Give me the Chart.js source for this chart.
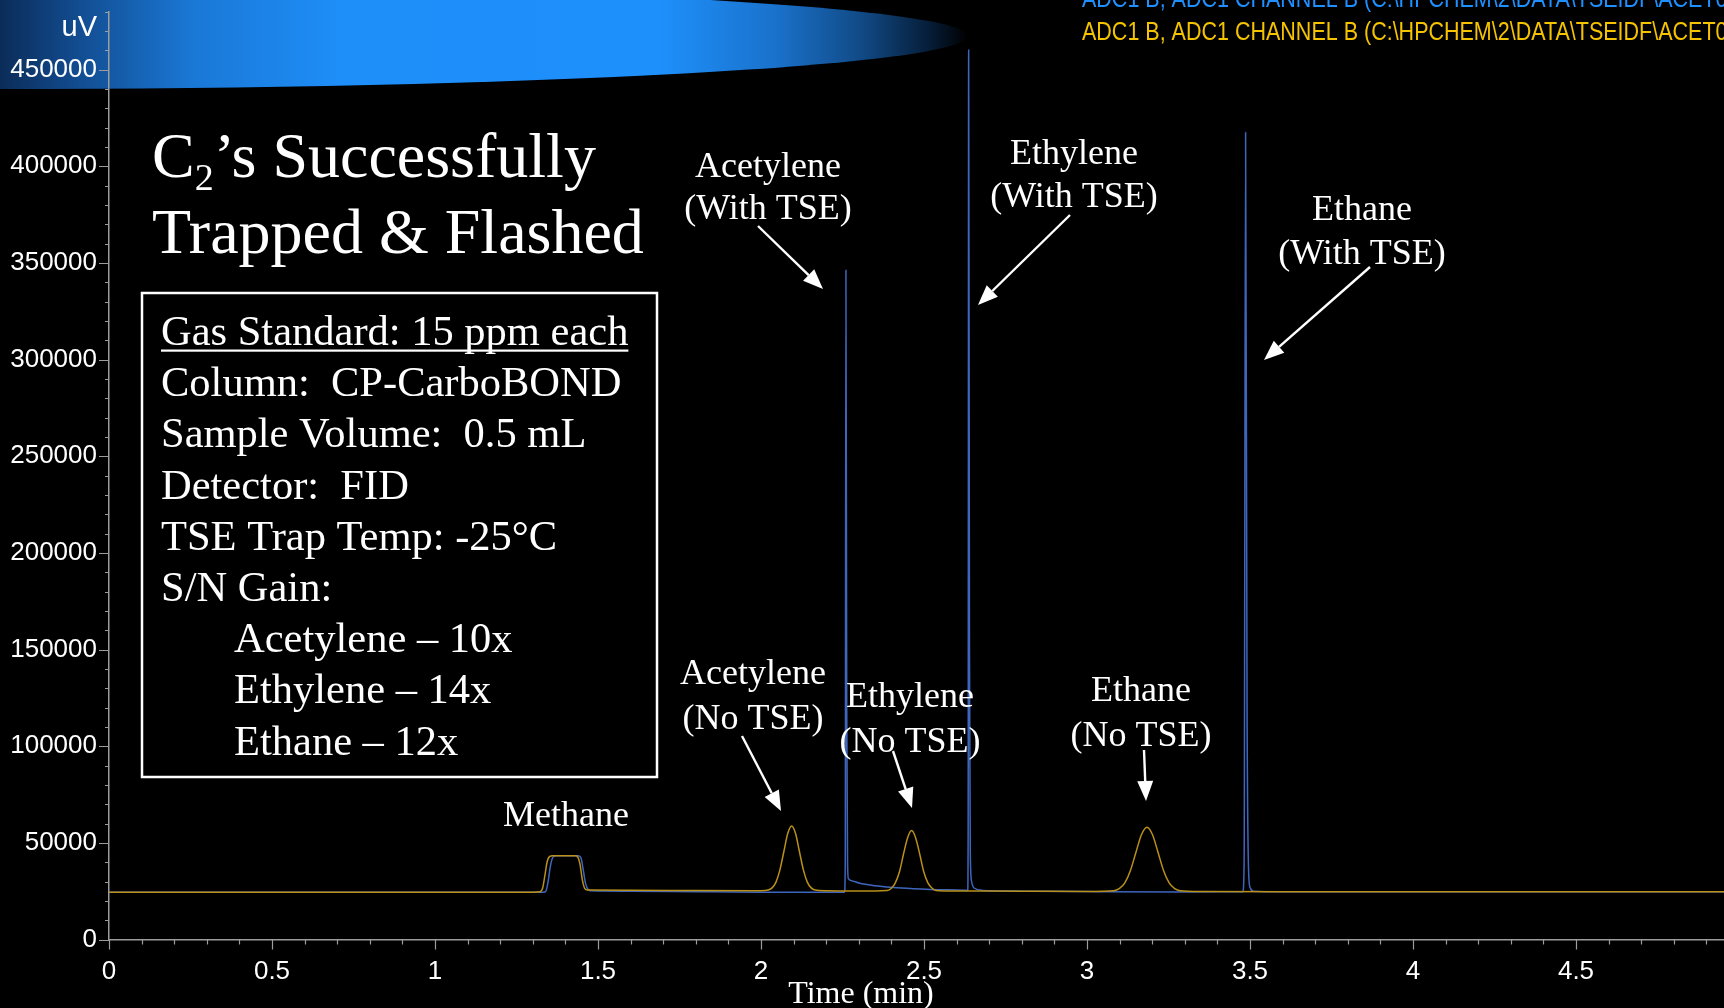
<!DOCTYPE html>
<html>
<head>
<meta charset="utf-8">
<script src="https://cdn.jsdelivr.net/npm/chart.js@4.4.1/dist/chart.umd.min.js"></script>
<style>
  html, body { margin: 0; padding: 0; background: #000; overflow: hidden; }
  #wrap { width: 1724px; height: 1008px; position: relative; }
</style>
</head>
<body>
<div id="wrap"><canvas id="chromatogram" width="1724" height="1008"></canvas></div>
<script>
// FID chromatogram, C2 gases, 15 ppm standard: run without and with the TSE trap

// Run without TSE (gold trace): retention time (min) and detector signal (uV)
const timeNoTse = [
  0, 1.300, 1.322, 1.330, 1.337, 1.344, 1.352, 1.360, 1.430, 1.438, 1.445, 1.452, 1.459, 1.468,
  1.600, 1.800, 2.000,
  2.022, 2.034, 2.046, 2.058, 2.070, 2.082, 2.094, 2.106, 2.118, 2.130, 2.142, 2.154, 2.166, 2.200,
  2.300, 2.387, 2.400, 2.412, 2.425, 2.437, 2.450, 2.462, 2.474, 2.487, 2.499, 2.512, 2.525, 2.537, 2.600,
  2.800, 3.000, 3.082, 3.099, 3.116, 3.133, 3.150, 3.167, 3.184, 3.201, 3.218, 3.235, 3.252, 3.269, 3.286, 3.350,
  3.600, 4.200, 4.960
];
const signalNoTse = [
  24500, 24500, 24700, 26500, 33000, 40200, 43000, 43300, 43300, 42700, 38700, 30800, 26500, 25600,
  25500, 25300, 25200,
  25600, 26700, 29700, 36000, 45400, 54800, 58700, 54800, 45400, 36000, 29700, 26700, 25600, 25200,
  25100, 25400, 26500, 29300, 35200, 44100, 52800, 56400, 52800, 44100, 35200, 29300, 26500, 25400, 25100,
  25000, 24800, 25200, 26300, 29300, 35600, 45000, 54200, 58100, 54200, 45000, 35600, 29300, 26300, 25200, 24800,
  24700, 24700, 24700
];

// Run with TSE (blue trace): retention time (min) and detector signal (uV)
const timeWithTse = [
  0, 1.332, 1.340, 1.347, 1.354, 1.362, 1.372, 1.440, 1.448, 1.455, 1.462, 1.470, 1.480,
  1.600, 1.800, 2.000, 2.256,
  2.2585, 2.2605, 2.2630, 2.2655, 2.268, 2.280, 2.300, 2.350, 2.430, 2.520, 2.620, 2.634,
  2.6355, 2.6370, 2.6395, 2.642, 2.646, 2.655, 2.680, 2.800,
  3.000, 3.300, 3.478, 3.482, 3.4865, 3.491, 3.495, 3.500, 3.510, 3.600, 4.200, 4.960
];
const signalWithTse = [
  24500, 24500, 25000, 30000, 38000, 42600, 43300, 43300, 42100, 35700, 28900, 25800, 25200,
  25000, 24700, 24500, 24500,
  40000, 346200, 120000, 40000, 31500, 30300, 29200, 27800, 26600, 25900, 25500, 25400,
  60000, 460100, 150000, 45000, 30000, 26500, 25400, 25000,
  24800, 24600, 24700, 40000, 417400, 120000, 40000, 27000, 25000, 24700, 24700, 24700
];

// Axis ticks
const timeTicks = [0, 0.5, 1, 1.5, 2, 2.5, 3, 3.5, 4, 4.5];
const signalTicks = [0, 50000, 100000, 150000, 200000, 250000, 300000, 350000, 400000, 450000];

const SANS = '"Liberation Sans", Arial, Helvetica, sans-serif';
const SERIF = '"Liberation Serif", "Times New Roman", Times, serif';
const AXIS_GREY = '#9c9c9c';

function toPoints(xs, ys) { return xs.map((x, i) => ({ x: x, y: ys[i] })); }

// Blue banner behind the top-left corner
const banner = {
  id: 'banner',
  beforeDraw(chart) {
    const ctx = chart.ctx;
    ctx.save();
    ctx.fillStyle = '#000';
    ctx.fillRect(0, 0, chart.width, chart.height);
    const rx = 968, ry = 53, cy = 36;
    const g = ctx.createLinearGradient(0, 0, rx, 0);
    g.addColorStop(0.00, '#0b2c58');
    g.addColorStop(0.08, '#124c90');
    g.addColorStop(0.20, '#1a78d6');
    g.addColorStop(0.35, '#1e8ef8');
    g.addColorStop(0.68, '#1e90fc');
    g.addColorStop(0.80, '#1a72cc');
    g.addColorStop(0.89, '#114a86');
    g.addColorStop(0.96, '#061d38');
    g.addColorStop(1.00, '#000000');
    ctx.beginPath();
    ctx.ellipse(0, cy, rx, ry, 0, 0, Math.PI * 2);
    ctx.fillStyle = g;
    ctx.fill();
    ctx.restore();
  }
};

// Major and minor tick marks on both axes
const tickMarks = {
  id: 'tickMarks',
  afterDraw(chart) {
    const ctx = chart.ctx;
    const xs = chart.scales.x, ys = chart.scales.y;
    const area = chart.chartArea;
    ctx.save();
    ctx.strokeStyle = AXIS_GREY;
    ctx.lineWidth = 1.2;
    ctx.beginPath();
    for (let i = 0; i <= 49; i++) {
      const px = Math.round(xs.getPixelForValue(i / 10)) + 0.5;
      const len = i % 5 === 0 ? 10 : 5;
      ctx.moveTo(px, area.bottom);
      ctx.lineTo(px, area.bottom + len);
    }
    for (let i = 0; i <= 48; i++) {
      const py = Math.round(ys.getPixelForValue(i * 10000)) + 0.5;
      const len = i % 5 === 0 ? 10 : 4;
      ctx.moveTo(area.left - len, py);
      ctx.lineTo(area.left, py);
    }
    ctx.stroke();
    ctx.restore();
  }
};

function arrow(ctx, x1, y1, x2, y2) {
  const ang = Math.atan2(y2 - y1, x2 - x1);
  const head = 20, half = 8;
  const bx = x2 - head * Math.cos(ang), by = y2 - head * Math.sin(ang);
  ctx.beginPath();
  ctx.moveTo(x1, y1);
  ctx.lineTo(bx, by);
  ctx.stroke();
  ctx.beginPath();
  ctx.moveTo(x2, y2);
  ctx.lineTo(bx + half * Math.sin(ang), by - half * Math.cos(ang));
  ctx.lineTo(bx - half * Math.sin(ang), by + half * Math.cos(ang));
  ctx.closePath();
  ctx.fill();
}

function centered(ctx, lines, cx, baselines) {
  ctx.textAlign = 'center';
  lines.forEach((t, i) => ctx.fillText(t, cx, baselines[i]));
}

// Condensed sans text, as the data system prints its file headers
function narrowText(ctx, text, x, y, squeeze) {
  ctx.save();
  ctx.translate(x, y);
  ctx.scale(squeeze, 1);
  ctx.fillText(text, 0, 0);
  ctx.restore();
}

// Slide text: title, run conditions, peak annotations, file headers
const slideText = {
  id: 'slideText',
  afterDraw(chart) {
    const ctx = chart.ctx;
    ctx.save();
    ctx.textBaseline = 'alphabetic';

    // Data file headers (run with TSE in blue, run without TSE in gold)
    ctx.font = '25px ' + SANS;
    ctx.textAlign = 'left';
    ctx.fillStyle = '#1e90ff';
    narrowText(ctx, 'ADC1 B, ADC1 CHANNEL B (C:\\HPCHEM\\2\\DATA\\TSEIDF\\ACET0002.D)', 1082, 7, 0.86);
    ctx.fillStyle = '#f5c300';
    narrowText(ctx, 'ADC1 B, ADC1 CHANNEL B (C:\\HPCHEM\\2\\DATA\\TSEIDF\\ACET0001.D)', 1082, 40, 0.86);

    // Y unit
    ctx.fillStyle = '#ffffff';
    ctx.font = '29px ' + SANS;
    ctx.textAlign = 'right';
    ctx.fillText('uV', 97, 36);

    // Title
    ctx.textAlign = 'left';
    ctx.font = '64px ' + SERIF;
    let x = 152;
    ctx.fillText('C', x, 177);
    x += ctx.measureText('C').width;
    ctx.font = '38px ' + SERIF;
    ctx.fillText('2', x, 190);
    x += ctx.measureText('2').width;
    ctx.font = '64px ' + SERIF;
    ctx.fillText('\u2019s Successfully', x, 177);
    ctx.fillText('Trapped & Flashed', 152, 253);

    // Run conditions box
    ctx.strokeStyle = '#ffffff';
    ctx.lineWidth = 2.5;
    ctx.strokeRect(142, 293, 515, 484);
    ctx.font = '42.5px ' + SERIF;
    const rows = [
      ['Gas Standard: 15 ppm each', 161],
      ['Column:  CP-CarboBOND', 161],
      ['Sample Volume:  0.5 mL', 161],
      ['Detector:  FID', 161],
      ['TSE Trap Temp: -25\u00B0C', 161],
      ['S/N Gain:', 161],
      ['Acetylene \u2013 10x', 234],
      ['Ethylene \u2013 14x', 234],
      ['Ethane \u2013 12x', 234]
    ];
    rows.forEach((r, i) => ctx.fillText(r[0], r[1], 345 + i * 51.2));
    const w0 = ctx.measureText(rows[0][0]).width;
    ctx.fillRect(161, 349.5, w0, 2.2);

    // Peak annotations
    ctx.font = '36px ' + SERIF;
    ctx.strokeStyle = '#ffffff';
    ctx.fillStyle = '#ffffff';
    ctx.lineWidth = 2.4;
    centered(ctx, ['Acetylene', '(With TSE)'], 768, [177, 219]);
    arrow(ctx, 758, 226, 823, 289);
    centered(ctx, ['Ethylene', '(With TSE)'], 1074, [164, 207]);
    arrow(ctx, 1070, 215, 978, 305);
    centered(ctx, ['Ethane', '(With TSE)'], 1362, [220, 264]);
    arrow(ctx, 1370, 267, 1264, 360);
    centered(ctx, ['Acetylene', '(No TSE)'], 753, [684, 729]);
    arrow(ctx, 742, 736, 781, 811);
    centered(ctx, ['Ethylene', '(No TSE)'], 910, [707, 752]);
    arrow(ctx, 893, 751, 912, 808);
    centered(ctx, ['Ethane', '(No TSE)'], 1141, [701, 746]);
    arrow(ctx, 1144, 750, 1146, 801);
    centered(ctx, ['Methane'], 566, [826]);

    // X axis title
    ctx.font = '32px ' + SERIF;
    centered(ctx, ['Time (min)'], 861, [1003]);

    ctx.restore();
  }
};

const chart = new Chart(document.getElementById('chromatogram'), {
  type: 'line',
  data: {
    datasets: [
      {
        label: 'No TSE',
        data: toPoints(timeNoTse, signalNoTse),
        borderColor: '#b8901a',
        borderWidth: 1.5,
        pointRadius: 0,
        cubicInterpolationMode: 'monotone',
        fill: false
      },
      {
        label: 'With TSE',
        data: toPoints(timeWithTse, signalWithTse),
        borderColor: '#3f66bd',
        borderWidth: 1.5,
        pointRadius: 0,
        cubicInterpolationMode: 'monotone',
        fill: false
      }
    ]
  },
  options: {
    responsive: false,
    animation: false,
    devicePixelRatio: 1,
    layout: { padding: { top: 11.5, right: 0, bottom: 0, left: 0 } },
    plugins: { legend: { display: false }, tooltip: { enabled: false } },
    scales: {
      x: {
        type: 'linear',
        min: 0,
        max: 4.954,
        afterFit(scale) {
          scale.height = 68.5;
          scale.paddingLeft = 0;
          scale.paddingRight = 0;
        },
        afterBuildTicks(scale) { scale.ticks = timeTicks.map(v => ({ value: v })); },
        grid: { display: false, drawTicks: false },
        border: { display: true, color: AXIS_GREY, width: 1.5 },
        ticks: {
          color: '#ffffff',
          font: { family: SANS, size: 26 },
          padding: 17,
          maxRotation: 0,
          autoSkip: false,
          callback: v => String(v)
        }
      },
      y: {
        type: 'linear',
        min: 0,
        max: 480000,
        afterFit(scale) {
          scale.width = 109;
          scale.paddingTop = 0;
          scale.paddingBottom = 0;
        },
        afterBuildTicks(scale) { scale.ticks = signalTicks.map(v => ({ value: v })); },
        grid: { display: false, drawTicks: false },
        border: { display: true, color: AXIS_GREY, width: 1.5 },
        ticks: {
          color: '#ffffff',
          font: { family: SANS, size: 26 },
          padding: 12,
          autoSkip: false,
          callback: v => String(v)
        }
      }
    }
  },
  plugins: [banner, tickMarks, slideText]
});
</script>
</body>
</html>
